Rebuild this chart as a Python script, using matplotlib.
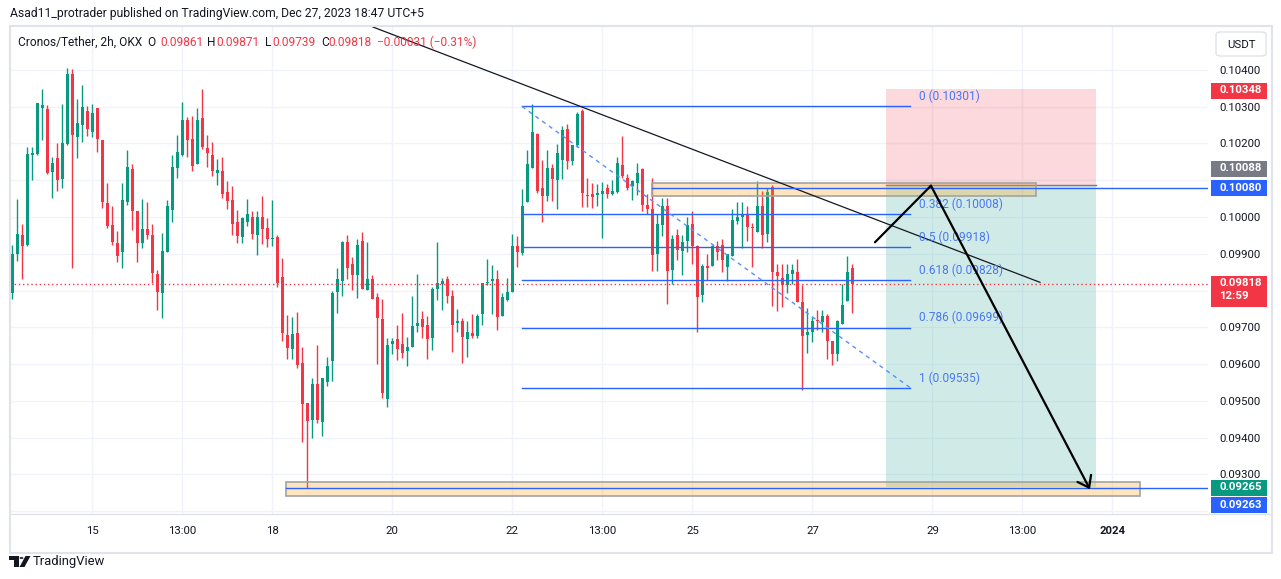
import numpy as np
import pandas as pd
import matplotlib
matplotlib.use('Agg')
import matplotlib.pyplot as plt
from matplotlib.patches import Rectangle, FancyBboxPatch, Polygon, Circle

plt.rcParams['font.family'] = ['Roboto', 'DejaVu Sans']

# ---------------- data (prices in units of 0.00001 USDT) ----------------
PRICE_UNIT = 1e-5
opens_u = [9793, 9899, 9950, 9923, 10168, 10172, 10297, 10294, 10122, 10160,
           10103, 10199, 10389, 10217, 10251, 10289, 10232, 10296, 10209, 10039,
           9977, 9928, 9904, 10042, 10130, 10015, 9929, 9966, 9952, 9845,
           9794, 9906, 10020, 10133, 10168, 10263, 10211, 10143, 10269, 10189,
           10170, 10119, 10124, 10067, 10045, 9987, 9946, 9987, 10001, 9952,
           10001, 9971, 9940, 9946, 9837, 9679, 9641, 9684, 9602, 9493,
           9447, 9546, 9443, 9551, 9607, 9797, 9827, 9933, 9873, 9843,
           9936, 9802, 9830, 9783, 9723, 9505, 9655, 9668, 9655, 9636,
           9647, 9704, 9723, 9707, 9671, 9805, 9819, 9832, 9786, 9712,
           9718, 9668, 9685, 9677, 9737, 9821, 9827, 9832, 9731, 9775,
           9797, 9920, 9901, 10041, 10132, 10225, 10078, 10057, 10132, 10101,
           10155, 10239, 10152, 10195, 10288, 10059, 10062, 10060, 10062, 10078,
           10062, 10068, 10141, 10105, 10084, 10092, 10130, 10034, 10021, 9900,
           9978, 10029, 9855, 9950, 9907, 9936, 9980, 9922, 9787, 9868,
           9868, 9922, 9925, 9863, 9895, 9990, 9999, 10007, 9974, 9960,
           10031, 9955, 10081, 9851, 9835, 9816, 9844, 9849, 9769, 9679,
           9686, 9721, 9715, 9731, 9663, 9627, 9709, 9772, 9861]
highs_u = [9925, 10048, 9981, 10190, 10190, 10310, 10348, 10304, 10164, 10201,
           10307, 10405, 10403, 10321, 10359, 10301, 10307, 10296, 10209, 10092,
           10031, 9963, 10093, 10182, 10143, 10015, 10048, 10042, 9982, 9856,
           9956, 10046, 10170, 10222, 10312, 10271, 10274, 10296, 10348, 10222,
           10203, 10157, 10162, 10099, 10083, 10020, 10001, 10050, 10017, 10015,
           10056, 9996, 10045, 9952, 9889, 9734, 9728, 9742, 9647, 9493,
           9562, 9652, 9562, 9619, 9800, 9862, 9936, 9952, 9890, 9941,
           9958, 9931, 9843, 9794, 9778, 9671, 9671, 9707, 9739, 9674,
           9786, 9846, 9745, 9731, 9810, 9933, 9835, 9840, 9802, 9750,
           9726, 9718, 9737, 9737, 9821, 9887, 9870, 9857, 9794, 9835,
           9955, 9947, 10075, 10182, 10307, 10228, 10154, 10182, 10143, 10198,
           10247, 10252, 10195, 10285, 10294, 10105, 10092, 10091, 10095, 10089,
           10101, 10163, 10220, 10116, 10100, 10146, 10132, 10062, 10105, 10007,
           10051, 10051, 9950, 9966, 9950, 9999, 10015, 9925, 9873, 9900,
           9925, 9936, 9939, 9900, 10021, 10040, 10040, 10029, 9985, 10097,
           10070, 10078, 10088, 9873, 9873, 9873, 9873, 9887, 9816, 9753,
           9729, 9748, 9748, 9737, 9663, 9720, 9819, 9895, 9871]
lows_u = [9778, 9880, 9831, 9920, 10102, 10170, 10210, 10117, 10051, 10071,
          10079, 10197, 9860, 10161, 10204, 10221, 10217, 10177, 10024, 9970,
          9925, 9877, 9860, 10032, 9964, 9877, 9915, 9939, 9820, 9747,
          9726, 9906, 9986, 10106, 10166, 10163, 10124, 10143, 10186, 10135,
          10111, 10086, 10051, 10023, 9952, 9930, 9930, 9976, 9941, 9897,
          9927, 9919, 9922, 9810, 9663, 9613, 9613, 9589, 9388, 9263,
          9399, 9440, 9405, 9540, 9555, 9739, 9786, 9830, 9802, 9780,
          9805, 9802, 9778, 9600, 9507, 9483, 9628, 9611, 9617, 9595,
          9647, 9688, 9671, 9614, 9638, 9775, 9748, 9767, 9633, 9688,
          9603, 9619, 9671, 9671, 9707, 9816, 9737, 9693, 9731, 9772,
          9797, 9865, 9896, 10041, 10132, 10066, 9986, 10043, 10043, 10021,
          10103, 10130, 10141, 10191, 10027, 10027, 10024, 10030, 9942, 10051,
          10059, 10065, 10106, 10073, 10046, 10060, 10016, 10008, 9852, 9852,
          9948, 9764, 9819, 9884, 9843, 9904, 9871, 9688, 9768, 9829,
          9866, 9884, 9851, 9827, 9895, 9980, 9917, 9936, 9865, 9960,
          9917, 9933, 9757, 9743, 9754, 9792, 9817, 9769, 9529, 9630,
          9660, 9693, 9687, 9614, 9598, 9608, 9709, 9772, 9739]
closes_u = [9900, 9955, 9920, 10171, 10173, 10310, 10304, 10121, 10146, 10101,
            10201, 10389, 10223, 10255, 10299, 10239, 10283, 10212, 10041, 9975,
            9931, 9895, 10045, 10135, 10016, 9929, 9966, 9950, 9848, 9797,
            9908, 10029, 10135, 10176, 10263, 10209, 10138, 10263, 10191, 10173,
            10125, 10129, 10062, 10043, 9980, 9949, 9998, 10009, 9955, 10001,
            9966, 9941, 9942, 9821, 9684, 9643, 9682, 9597, 9492, 9446,
            9546, 9447, 9562, 9595, 9794, 9830, 9933, 9862, 9843, 9925,
            9805, 9830, 9778, 9726, 9521, 9652, 9663, 9641, 9630, 9647,
            9704, 9712, 9701, 9668, 9805, 9821, 9827, 9786, 9707, 9718,
            9674, 9688, 9677, 9731, 9821, 9824, 9832, 9729, 9783, 9797,
            9920, 9906, 10029, 10143, 10231, 10071, 10057, 10132, 10103, 10173,
            10236, 10152, 10195, 10280, 10065, 10056, 10054, 10065, 10072, 10062,
            10070, 10146, 10112, 10078, 10097, 10121, 10032, 10023, 9896, 9982,
            10029, 9852, 9939, 9911, 9933, 9977, 9920, 9781, 9868, 9860,
            9922, 9906, 9882, 9900, 9993, 10001, 10007, 9974, 9969, 10031,
            9950, 10067, 9849, 9839, 9814, 9846, 9857, 9769, 9677, 9687,
            9718, 9716, 9730, 9663, 9627, 9718, 9760, 9849, 9818]

start_time = '2023-12-13 17:00'
bar_freq = '2h'

tick_times = ['2023-12-15 01:00', '2023-12-16 13:00', '2023-12-18 01:00', '2023-12-20 01:00',
              '2023-12-22 01:00', '2023-12-23 13:00', '2023-12-25 01:00', '2023-12-27 01:00',
              '2023-12-29 01:00', '2023-12-30 13:00', '2024-01-01 01:00']
tick_labels = ['15', '13:00', '18', '20', '22', '13:00', '25', '27', '29', '13:00', '2024']

grid_prices = [0.092, 0.093, 0.094, 0.095, 0.096, 0.097, 0.098, 0.099, 0.100, 0.101, 0.102, 0.103, 0.104]
# tick labels not hidden behind the coloured price labels
price_ticks = [0.093, 0.094, 0.095, 0.096, 0.097, 0.099, 0.100, 0.102, 0.103, 0.104]

fib_levels = [0, 0.382, 0.5, 0.618, 0.786, 1]
fib_prices = [0.10301, 0.10008, 0.09918, 0.09828, 0.09699, 0.09535]

last_price = 0.09818
stop_price = 0.10348
entry_price = 0.10088
target_price = 0.09265
ray_top_price = 0.10080
ray_bottom_price = 0.09263

# ---------------- styling ----------------
GREEN = '#089981'
RED = '#f23645'
BLUE = '#2962ff'
TXT = '#131722'
GRID = '#f0f3fa'
BORDER = '#e0e3eb'
FS = 8.2

W, H = 1281, 579
fig = plt.figure(figsize=(W / 100, H / 100), dpi=100)
fig.patch.set_facecolor('white')


def fxp(px):
    return px / W


def fyp(py):
    return 1 - py / H


ax = fig.add_axes([fxp(10), fyp(514), fxp(1208) - fxp(10), fyp(26) - fyp(514)])
ax.set_facecolor('white')

t0 = pd.Timestamp(start_time)
step = pd.Timedelta(bar_freq)


def tx(ts):
    return (pd.Timestamp(ts) - t0) / step


opens = np.array(opens_u) * PRICE_UNIT
highs = np.array(highs_u) * PRICE_UNIT
lows = np.array(lows_u) * PRICE_UNIT
closes = np.array(closes_u) * PRICE_UNIT
n = len(opens)
times = pd.date_range(start_time, periods=n, freq=bar_freq)
x = np.array([tx(t) for t in times])

ax.set_xlim(-0.46, 239.1)
ax.set_ylim(0.091919, 0.105197)

# grid
for p in grid_prices:
    ax.axhline(p, color=GRID, lw=1, zorder=0)
tick_x = [tx(t) for t in tick_times]
for tpos in tick_x:
    ax.axvline(tpos, color=GRID, lw=1, zorder=0)

# candles
up = closes >= opens
cols = np.where(up, GREEN, RED)
ax.vlines(x, lows, highs, colors=cols, lw=1, zorder=3)
body_bottom = np.minimum(opens, closes)
body_h = np.maximum(np.abs(closes - opens), 2.6e-5)
ax.bar(x, body_h, bottom=body_bottom, width=0.64, color=cols, linewidth=0, zorder=4)

# last price dotted line
ax.axhline(last_price, color=RED, lw=1, ls=(0, (1, 2)), zorder=5)

# black trend line
trend_x = [72.1, 205.5]
trend_y = [0.10517, 0.098223]
ax.plot(trend_x, trend_y, color='#131722', lw=0.9, zorder=7)

# orange zones
zones = [(127.9, 204.7, 0.100580, 0.100917), (54.7, 225.6, 0.092417, 0.092781)]
for x0, x1, y0, y1 in zones:
    ax.add_patch(Rectangle((x0, y0), x1 - x0, y1 - y0, facecolor=(1.0, 0.6, 0.0, 0.25),
                           edgecolor='#a3a3a3', lw=1.2, zorder=6))

# horizontal rays
ax.plot([127.9, 260], [ray_top_price, ray_top_price], color=BLUE, lw=1, zorder=7)
ax.plot([54.7, 260], [ray_bottom_price, ray_bottom_price], color=BLUE, lw=1, zorder=7)

# position tool
pos_x0, pos_x1 = 174.7, 216.7
ax.add_patch(Rectangle((pos_x0, entry_price), pos_x1 - pos_x0, stop_price - entry_price,
                       facecolor=(242 / 255, 54 / 255, 69 / 255, 0.19), edgecolor='none', zorder=2))
ax.add_patch(Rectangle((pos_x0, target_price), pos_x1 - pos_x0, entry_price - target_price,
                       facecolor=(8 / 255, 153 / 255, 129 / 255, 0.19), edgecolor='none', zorder=2))
ax.plot([pos_x0, pos_x1], [entry_price, entry_price], color='#787b86', lw=1, zorder=2.5)

# fibonacci retracement
fib_x0, fib_x1 = 101.9, 179.6
for lvl, p in zip(fib_levels, fib_prices):
    ax.plot([fib_x0, fib_x1], [p, p], color=BLUE, lw=1, zorder=6)
    ax.annotate(f'{lvl:g} ({p:.5f})', xy=(fib_x1, p), xytext=(8.5, 10), textcoords='offset pixels',
                ha='left', va='center', color='#4a78f2', fontsize=8.6, zorder=8)
ax.plot([fib_x0, fib_x1], [fib_prices[0], fib_prices[-1]], color='#5b8ff7', lw=1,
        ls=(0, (3, 3)), zorder=6)

# projection path with arrow
path_x = [172.5, 183.7, 215.5]
path_y = [0.099312, 0.100852, 0.092591]
ax.plot(path_x[:2], path_y[:2], color='black', lw=1.6, zorder=9, solid_capstyle='round')
ax.annotate('', xy=(path_x[2], path_y[2]), xytext=(path_x[1], path_y[1]),
            arrowprops=dict(arrowstyle='->,head_length=0.75,head_width=0.55', lw=1.6, color='black',
                            shrinkA=0, shrinkB=0, mutation_scale=10), zorder=9)

# axes ticks
for s in ax.spines.values():
    s.set_visible(False)
ax.yaxis.tick_right()
ax.set_yticks(price_ticks)
ax.set_yticklabels([f'{p:.5f}' for p in price_ticks])
ax.tick_params(axis='y', length=0, pad=8, labelsize=FS, labelcolor=TXT)
ax.set_xticks(tick_x)
ax.set_xticklabels(tick_labels)
ax.tick_params(axis='x', length=0, pad=8.5, labelsize=FS, labelcolor=TXT)
for lab in ax.get_xticklabels():
    if lab.get_text() == '2024':
        lab.set_fontweight('bold')

# frame lines
fig.add_artist(plt.Line2D([fxp(10), fxp(1271)], [fyp(514), fyp(514)], color=BORDER, lw=1,
                          transform=fig.transFigure))
fig.add_artist(Rectangle((fxp(9.5), fyp(553)), fxp(1262), (553 - 26) / H, fill=False, edgecolor=BORDER,
                         lw=1.5, transform=fig.transFigure))


# price axis labels
def axis_label(price, text, color, dy=0.0, h=16):
    yd = ax.transData.transform((0, price))[1]
    yc = H - yd + dy
    top = yc - 8
    fig.add_artist(Rectangle((fxp(1211), fyp(top + h)), fxp(56), h / H, transform=fig.transFigure,
                             facecolor=color, edgecolor='none', zorder=5))
    fig.text(fxp(1219), fyp(top + 2.5), text, ha='left', va='top', color='white', fontsize=FS,
             fontweight='bold', linespacing=1.3, zorder=6)


axis_label(stop_price, f'{stop_price:.5f}', RED, dy=1.5)
axis_label(entry_price, f'{entry_price:.5f}', '#787b86', dy=-16)
axis_label(ray_top_price, f'{ray_top_price:.5f}', BLUE, dy=0.5)
axis_label(last_price, f'{last_price:.5f}\n12:59', RED, h=31)
axis_label(target_price, f'{target_price:.5f}', GREEN, dy=0.5)
axis_label(ray_bottom_price, f'{ray_bottom_price:.5f}', BLUE, dy=17.5)

# USDT box
fig.add_artist(FancyBboxPatch((fxp(1216), fyp(56)), fxp(50), 24 / H,
                              boxstyle='round,pad=0,rounding_size=0.004',
                              transform=fig.transFigure, facecolor='white', edgecolor=BORDER, lw=1, zorder=5))
fig.text(fxp(1241), fyp(44.5), 'USDT', ha='center', va='center', color=TXT, fontsize=FS, zorder=6)

# header
fig.text(fxp(10), fyp(13), 'Asad11_protrader published on TradingView.com, Dec 27, 2023 18:47 UTC+5',
         ha='left', va='center', color=TXT, fontsize=8.7)
legend_parts = [(18, 'Cronos/Tether, 2h, OKX', TXT), (147, 'O', TXT), (160, '0.09861', RED),
                (207, 'H', TXT), (216, '0.09871', RED), (265, 'L', TXT), (272, '0.09739', RED),
                (321, 'C', TXT), (328, '0.09818', RED), (377, '\u22120.00031 (\u22120.31%)', RED)]
for px, s, c in legend_parts:
    fig.text(fxp(px), fyp(42), s, ha='left', va='center', color=c, fontsize=FS + 0.4)

# footer logo + text
logo_c = TXT
fig.add_artist(Polygon([(fxp(9), fyp(556)), (fxp(18.5), fyp(556)), (fxp(18.5), fyp(567)), (fxp(14), fyp(567)),
                        (fxp(14), fyp(560)), (fxp(9), fyp(560))], closed=True, transform=fig.transFigure,
                       facecolor=logo_c, edgecolor='none'))
fig.add_artist(Circle((fxp(21.5), fyp(558)), 2.0 / W, transform=fig.transFigure, facecolor=logo_c,
                      edgecolor='none'))
fig.add_artist(Polygon([(fxp(19.5), fyp(567)), (fxp(24.5), fyp(567)), (fxp(30.5), fyp(556)),
                        (fxp(25.5), fyp(556))],
                       closed=True, transform=fig.transFigure, facecolor=logo_c, edgecolor='none'))
fig.text(fxp(33), fyp(561.5), 'TradingView', ha='left', va='center', color=TXT, fontsize=9.4)

fig.savefig('out.png', dpi=100, facecolor='white')
